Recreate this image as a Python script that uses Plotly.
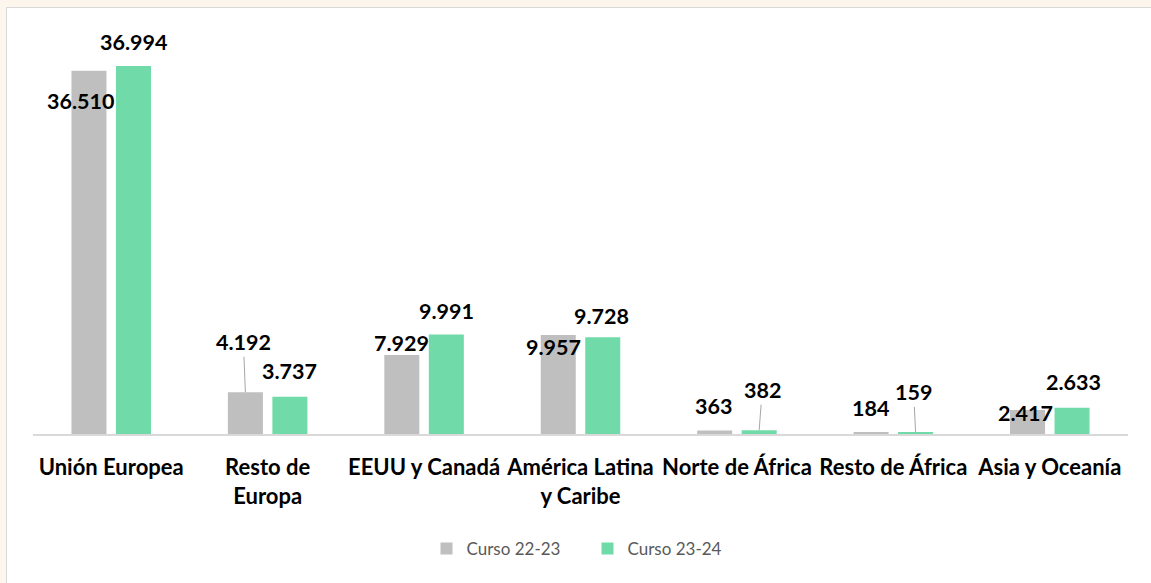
import plotly.graph_objects as go

categories = ["Unión Europea", "Resto de<br>Europa", "EEUU y Canadá", "América Latina<br>y Caribe",
              "Norte de África", "Resto de África", "Asia y Oceanía"]
series_names = ["Curso 22-23", "Curso 23-24"]
curso_22_23 = [36510, 4192, 7929, 9957, 363, 184, 2417]
curso_23_24 = [36994, 3737, 9991, 9728, 382, 159, 2633]

colors = ["#bfbfbf", "#70dba9"]

# label placement (pixels): x offset from bar centre, y offset from bar top, leader line flag
label_dx_1 = [-8, -2, 0, -5, -1, -1, -2]
label_dy_1 = [-30, 50, 12, -12, 24, 24, -3]
leader_1 = [False, True, False, False, False, False, False]
label_dx_2 = [0, 0, 0, -1, 3, -2, 1]
label_dy_2 = [24, 26, 24, 21, 40, 40, 26]
leader_2 = [False, False, False, False, True, True, False]

W, H = 1151, 583
ML, MR, MT, MB = 33, 23, 36, 149
PW, PH = W - ML - MR, H - MT - MB
cat_w = PW / len(categories)
bar_off = cat_w * (1 - 0.431) / 4

FONT = "Lato"

fig = go.Figure()
for name, vals, col in zip(series_names, [curso_22_23, curso_23_24], colors):
    fig.add_trace(go.Bar(x=categories, y=vals, name=name, marker_color=col,
                         marker_line_width=0, hoverinfo="skip"))

def fmt(v):
    return f"{v:,}".replace(",", ".")

annotations = []
for vals, dxs, dys, leads, side in [(curso_22_23, label_dx_1, label_dy_1, leader_1, -1),
                                     (curso_23_24, label_dx_2, label_dy_2, leader_2, 1)]:
    for cat, v, dx, dy, lead in zip(categories, vals, dxs, dys, leads):
        base = dict(x=cat, y=v, xref="x", yref="y", text=fmt(v),
                    font=dict(family=FONT, size=21.5, color="black", weight="bold"))
        if lead:
            annotations.append(dict(**base, xshift=side * bar_off, showarrow=True, arrowhead=0,
                                    arrowwidth=1, arrowcolor="#a6a6a6", ax=dx, ay=-dy,
                                    standoff=0, startstandoff=0))
        else:
            annotations.append(dict(**base, xshift=side * bar_off + dx, yshift=dy,
                                    showarrow=False))

fig.update_layout(
    width=W, height=H,
    margin=dict(l=ML, r=MR, t=MT, b=MB),
    paper_bgcolor="#fcf6ec",
    plot_bgcolor="rgba(0,0,0,0)",
    barmode="group", bargap=0.431, bargroupgap=0.213,
    showlegend=True,
    legend=dict(orientation="h", x=0.5 + 7 / PW, xanchor="center", y=(434 - 549) / PH, yanchor="middle",
                font=dict(family=FONT, size=17, color="#595959"), bgcolor="rgba(0,0,0,0)",
                itemwidth=30, entrywidth=116, traceorder="normal"),
    xaxis=dict(showline=True, linecolor="#d9d9d9", linewidth=2, showgrid=False, ticks="",
               tickfont=dict(family=FONT, size=22, color="black", weight="bold"),
               ticklabelstandoff=13, fixedrange=True),
    yaxis=dict(range=[0, 40000], visible=False, showgrid=False, fixedrange=True),
    annotations=annotations,
    shapes=[dict(type="rect", xref="paper", yref="paper", layer="below",
                 x0=(6.5 - ML) / PW, x1=(W + 10 - ML) / PW,
                 y0=(434 - (H + 10)) / PH, y1=(434 - 7.5) / PH,
                 fillcolor="white", line=dict(color="#d9d9d9", width=1))],
)

fig.write_html("out.html", config={"displayModeBar": False},
               post_script="document.body.style.margin='0';document.body.style.overflow='hidden';")
